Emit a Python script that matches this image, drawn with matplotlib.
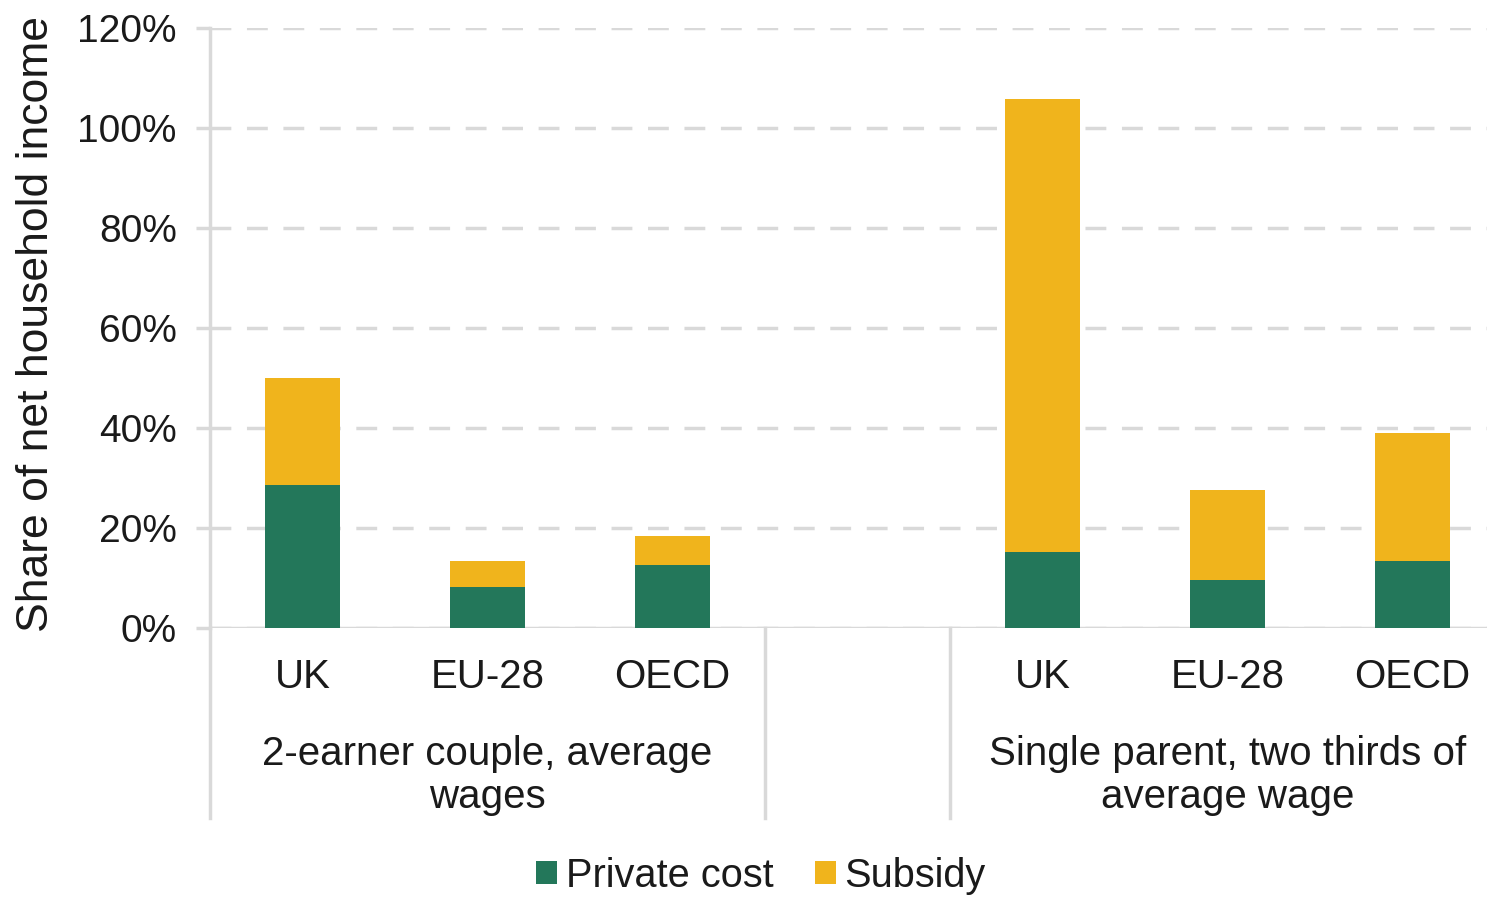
import matplotlib
matplotlib.use("Agg")
import matplotlib.pyplot as plt
from matplotlib.patches import Patch
from matplotlib.lines import Line2D
import numpy as np

plt.rcParams['font.family'] = ['Liberation Sans', 'DejaVu Sans']

# ---- data ----
countries = ["UK", "EU-28", "OECD"]
groups = ["2-earner couple, average\nwages", "Single parent, two thirds of\naverage wage"]
private_cost = [[28.7, 8.3, 12.6], [15.2, 9.6, 13.5]]
subsidy = [[21.4, 5.2, 5.9], [90.7, 18.0, 25.6]]
yticks = [0, 20, 40, 60, 80, 100, 120]
ytick_labels = ["0%", "20%", "40%", "60%", "80%", "100%", "120%"]
series_names = ["Private cost", "Subsidy"]

GREEN = "#23775A"
YELLOW = "#F0B41C"
GRID = "#D9D9D9"
TEXT = "#1a1a1a"
FS = 28
FS2 = 29

W, H = 1491, 898
fig = plt.figure(figsize=(W / 100, H / 100), dpi=100)
ax_left, ax_right, ax_top, ax_bot = 210, 1487, 28, 628
ax = fig.add_axes([ax_left / W, 1 - ax_bot / H, (ax_right - ax_left) / W, (ax_bot - ax_top) / H])

slot_px = 185.0
xmax = -0.5 + (ax_right - ax_left) / slot_px

n = len(countries)
positions = []
for g in range(len(groups)):
    positions.append([g * (n + 1) + i for i in range(n)])

bw = 0.405
for g in range(len(groups)):
    ax.bar(positions[g], private_cost[g], width=bw, color=GREEN, zorder=3)
    ax.bar(positions[g], subsidy[g], width=bw, bottom=private_cost[g], color=YELLOW, zorder=3)

ax.set_xlim(-0.5, xmax)
ax.set_ylim(0, 120)
ax.set_yticks(yticks)
ax.set_yticklabels(ytick_labels, fontsize=FS, color=TEXT)
ax.tick_params(axis='y', length=10, width=2.5, color=GRID, pad=14)
ax.set_xticks([])
ax.yaxis.grid(True, color=GRID, linestyle=(0, (6, 4.5)), linewidth=2.5, zorder=0)
ax.set_axisbelow(True)
for s in ['top', 'right']:
    ax.spines[s].set_visible(False)
ax.spines['bottom'].set_visible(False)
ax.spines['left'].set_color(GRID)
ax.spines['left'].set_linewidth(2.5)
ax.spines['left'].set_zorder(1)

# bottom axis line (extends slightly left like a tick)
ax.add_line(Line2D([ax_left - 10, ax_right], [H - ax_bot, H - ax_bot], transform=None,
                   color=GRID, linewidth=2.5, zorder=2))

# category and group labels
trans = ax.get_xaxis_transform()
def fy(px):
    return (ax_bot - px) / (ax_bot - ax_top)

for g in range(len(groups)):
    for i, c in enumerate(countries):
        ax.text(positions[g][i], fy(688), c, transform=trans, ha='center', va='baseline',
                fontsize=FS2, color=TEXT, clip_on=False)
    ax.text(positions[g][1], fy(808), groups[g], transform=trans, ha='center', va='baseline',
            fontsize=FS2, color=TEXT, linespacing=1.18, clip_on=False)

# divider lines
for xd in [-0.5, n - 0.5, n + 0.5]:
    ax.plot([xd, xd], [0, fy(818)], transform=trans, color=GRID, linewidth=2.5,
            clip_on=False, zorder=1)

ax.set_ylabel("Share of net household income", fontsize=32, color=TEXT)
ax.yaxis.set_label_coords((57 - ax_left) / (ax_right - ax_left), fy(324))

handles = [Patch(facecolor=GREEN, edgecolor='none'), Patch(facecolor=YELLOW, edgecolor='none')]
fig.legend(handles, series_names, loc='center', bbox_to_anchor=(761 / W, 1 - 876 / H),
           ncol=2, frameon=False, fontsize=28.6, handlelength=0.52, handleheight=0.52,
           handletextpad=0.22, columnspacing=1.05, labelcolor=TEXT, borderpad=0)

fig.savefig("out.png", dpi=100)
